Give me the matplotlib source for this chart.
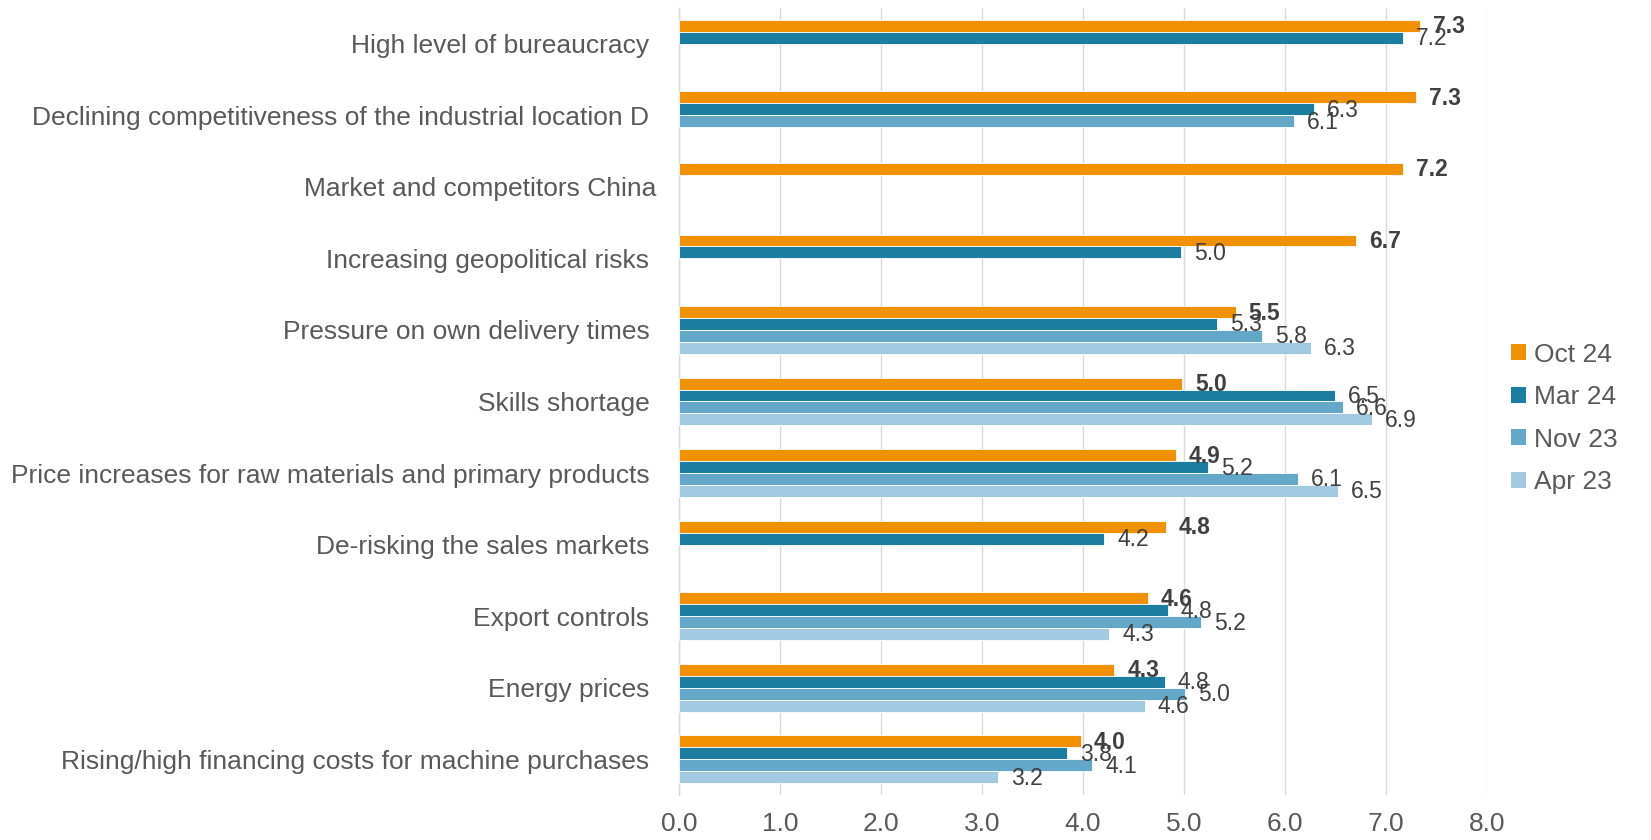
import numpy as np
import matplotlib
matplotlib.use("Agg")
import matplotlib.pyplot as plt
from matplotlib.patches import Patch

plt.rcParams['font.family'] = ['Liberation Sans', 'DejaVu Sans']

categories = [
    "High level of bureaucracy ",
    "Declining competitiveness of the industrial location D ",
    "Market and competitors China",
    "Increasing geopolitical risks ",
    "Pressure on own delivery times ",
    "Skills shortage ",
    "Price increases for raw materials and primary products ",
    "De-risking the sales markets ",
    "Export controls ",
    "Energy prices ",
    "Rising/high financing costs for machine purchases ",
]
series_names = ["Oct 24", "Mar 24", "Nov 23", "Apr 23"]
nan = np.nan
oct24 = [7.34, 7.30, 7.17, 6.70, 5.51, 4.98, 4.92, 4.82, 4.64, 4.31, 3.98]
mar24 = [7.17, 6.29, nan, 4.97, 5.33, 6.49, 5.24, 4.21, 4.84, 4.81, 3.84]
nov23 = [nan, 6.09, nan, nan, 5.77, 6.57, 6.13, nan, 5.17, 5.01, 4.09]
apr23 = [nan, nan, nan, nan, 6.26, 6.86, 6.52, nan, 4.26, 4.61, 3.16]
xticks = [0, 1, 2, 3, 4, 5, 6, 7, 8]

colors = ["#F29100", "#1B7EA0", "#63A8C8", "#A1C9E0"]
all_series = [oct24, mar24, nov23, apr23]

fig = plt.figure(figsize=(16.51, 8.40), dpi=100)
ax = fig.add_axes([0.4113, 0.0536, 0.4894, 0.9369])

n = len(categories)
y = np.arange(n)
h = 1 / 6
for j, (vals, col, name) in enumerate(zip(all_series, colors, series_names)):
    vals = np.array(vals, dtype=float)
    pos = y - 0.25 + j * h
    mask = ~np.isnan(vals)
    ax.barh(pos[mask], vals[mask], height=h, color=col, edgecolor='white',
            linewidth=0.6, zorder=3)
    for yy, v in zip(pos[mask], vals[mask]):
        ax.annotate(f"{v:.1f}", xy=(v, yy), xytext=(13, -1),
                    textcoords='offset pixels', va='center', ha='left',
                    fontsize=16.5, color='#404040',
                    fontweight='bold' if j == 0 else 'normal', zorder=4)

ax.set_xlim(0, 8)
ax.set_ylim(n - 0.5, -0.5)
ax.set_xticks(xticks)
ax.set_xticklabels([f"{t:.1f}" for t in xticks])
ax.set_yticks(y)
ax.set_yticklabels(categories)
ax.tick_params(axis='both', length=0, labelsize=19, colors='#595959')
ax.tick_params(axis='y', pad=16)
ax.tick_params(axis='x', pad=12)
ax.grid(axis='x', color='#D9D9D9', linewidth=1.0, zorder=0)
ax.set_axisbelow(True)
for s in ['top', 'right', 'bottom']:
    ax.spines[s].set_visible(False)
ax.spines['left'].set_color('#D9D9D9')
ax.spines['left'].set_linewidth(1.0)

handles = [Patch(facecolor=c, edgecolor='none') for c in colors]
leg = fig.legend(handles, series_names, loc='center left',
                 bbox_to_anchor=(0.9155, 0.502), frameon=False,
                 fontsize=19, handlelength=0.55, handleheight=0.55,
                 handletextpad=0.3, labelspacing=0.70, borderpad=0,
                 borderaxespad=0)
for t in leg.get_texts():
    t.set_color('#595959')

fig.savefig("out.png", dpi=100)
